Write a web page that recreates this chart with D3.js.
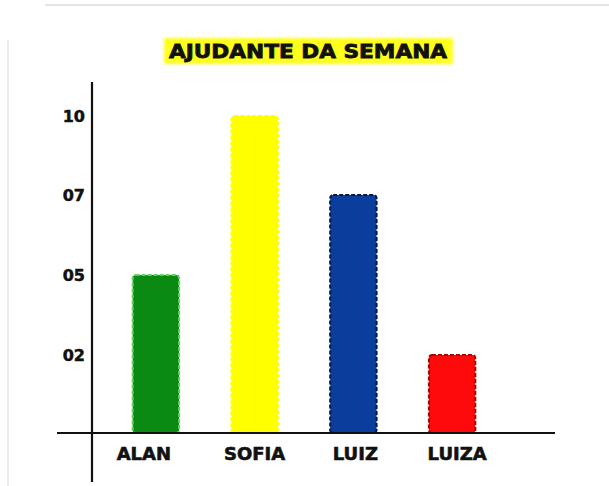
<!DOCTYPE html>
<html>
<head>
<meta charset="utf-8">
<script src="https://cdn.jsdelivr.net/npm/d3@7"></script>
<style>
  body { margin: 0; background: #fff; }
  svg { display: block; }
</style>
</head>
<body>
<div id="chart"></div>
<script>
// Ajudante da semana - bar chart

// data
let names = ['ALAN', 'SOFIA', 'LUIZ', 'LUIZA'];
let votes = [5, 10, 7, 2];
let tickValues = [2, 5, 7, 10];
let tickLabels = ['02', '05', '07', '10'];
let fills = ['#0a8a12', '#ffff00', '#0b3d9c', '#ff0a0a'];
let dashes = ['#5fd45f', '#ffff00', '#04194d', '#b00000'];

let W = 609, H = 486;

let svg = d3.select('#chart')
  .append('svg')
  .attr('width', W)
  .attr('height', H);

let defs = svg.append('defs');
defs.append('filter')
  .attr('id', 'soft')
  .attr('x', '-10%').attr('y', '-30%')
  .attr('width', '120%').attr('height', '160%')
  .append('feGaussianBlur')
  .attr('stdDeviation', 1.6);

// faint frame of the photo
svg.append('line')
  .attr('x1', 45).attr('x2', W).attr('y1', 5).attr('y2', 5)
  .attr('stroke', '#e6e6e6').attr('stroke-width', 2);
svg.append('line')
  .attr('x1', 8).attr('x2', 8).attr('y1', 40).attr('y2', H)
  .attr('stroke', '#ececec').attr('stroke-width', 2);

// scales: the tick labels are evenly spaced, so y is piecewise
let y = d3.scaleLinear()
  .domain([0, 2, 5, 7, 10])
  .range([433, 355, 275, 195, 116]);

let x = d3.scaleBand()
  .domain(names)
  .range([107, 501])
  .paddingInner(0.53)
  .paddingOuter(0.26);

// title
svg.append('rect')
  .attr('x', 164).attr('y', 38)
  .attr('width', 289).attr('height', 26)
  .attr('fill', '#ffff1a')
  .attr('filter', 'url(#soft)');

svg.append('text')
  .attr('x', 169)
  .attr('y', 58)
  .attr('textLength', 278)
  .attr('lengthAdjust', 'spacingAndGlyphs')
  .style('font-family', 'DejaVu Sans')
  .style('font-weight', 'bold')
  .style('font-size', '19px')
  .attr('fill', '#111')
  .attr('stroke', '#111')
  .attr('stroke-width', 0.8)
  .text('AJUDANTE DA SEMANA');

// bars
svg.selectAll('.bar')
  .data(names)
  .enter().append('rect')
  .attr('class', 'bar')
  .attr('x', d => x(d))
  .attr('y', (d, i) => y(votes[i]))
  .attr('width', x.bandwidth())
  .attr('height', (d, i) => y(0) - y(votes[i]))
  .attr('rx', 3)
  .attr('fill', (d, i) => fills[i])
  .attr('stroke', (d, i) => dashes[i])
  .attr('stroke-width', 2)
  .attr('stroke-dasharray', '4,2');

// axes
let xAxis = d3.axisBottom(x).tickSize(0).tickPadding(14);
let gx = svg.append('g')
  .attr('transform', 'translate(0,433)')
  .call(xAxis);
gx.select('.domain').remove();
gx.append('line')
  .attr('x1', 57).attr('x2', 555)
  .attr('stroke', '#111').attr('stroke-width', 2.2);
gx.selectAll('text')
  .attr('fill', '#111')
  .attr('stroke', '#111')
  .attr('stroke-width', 0.6)
  .style('font-family', 'DejaVu Sans')
  .style('font-weight', 'bold')
  .style('font-size', '18px')
  .attr('dx', (d, i) => [-12, 0, 2, 5][i]);

let yAxis = d3.axisLeft(y)
  .tickValues(tickValues)
  .tickFormat((d, i) => tickLabels[i])
  .tickSize(0)
  .tickPadding(7);
let gy = svg.append('g')
  .attr('transform', 'translate(92,0)')
  .call(yAxis);
gy.select('.domain').remove();
gy.append('line')
  .attr('y1', 82).attr('y2', 482)
  .attr('stroke', '#111').attr('stroke-width', 2.2);
gy.selectAll('text')
  .attr('fill', '#111')
  .attr('stroke', '#111')
  .attr('stroke-width', 0.5)
  .style('font-family', 'DejaVu Sans')
  .style('font-weight', 'bold')
  .style('font-size', '16px');
</script>
</body>
</html>
